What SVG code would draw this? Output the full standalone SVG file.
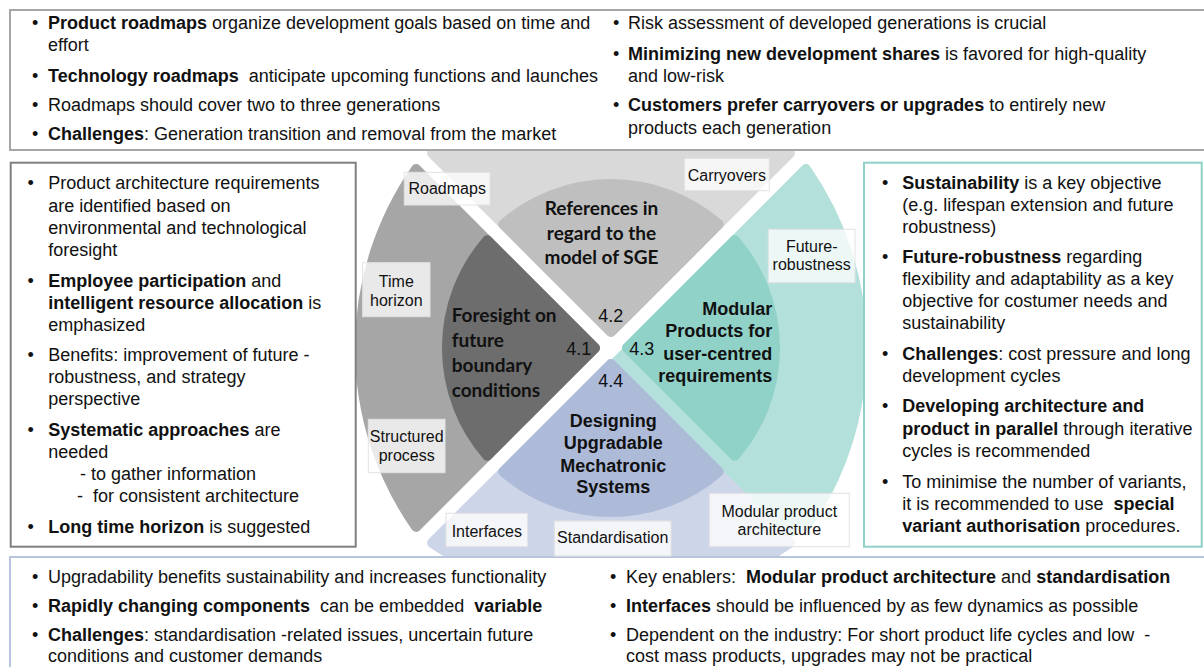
<svg xmlns="http://www.w3.org/2000/svg" width="1204" height="667" viewBox="0 0 1204 667">
<style>
  .shape { stroke-width: 10; stroke-linejoin: round; }
  .t { font-family: "Liberation Sans", Arial, sans-serif; font-size: 18px; fill: #111; }
  .b { font-weight: bold; }
  .lbl { font-family: "Liberation Sans", Arial, sans-serif; font-size: 16px; fill: #111; text-anchor: middle; }
  .lblbox { fill: #ffffff; fill-opacity: 0.75; stroke: #e2e2e2; stroke-width: 1; }
  .ttl { font-family: Lato, "Open Sans", sans-serif; font-weight: bold; font-size: 19px; fill: #111; }
  .ttl2 { font-family: "Liberation Sans", Arial, sans-serif; font-weight: bold; font-size: 18px; fill: #111; }
  .num { font-family: "Liberation Sans", Arial, sans-serif; font-size: 18px; fill: #111; text-anchor: middle; }
</style>

<g id="wheel">
  <g id="outer-left"><path class="shape" fill="#a6a6a6" stroke="#a6a6a6" d="M595,348 L416.1,169.1 A313,313 0 0 0 416.1,526.9 Z"/></g>
  <g id="outer-top"><path class="shape" fill="#d9d9d9" stroke="#d9d9d9" d="M611,332 L432.1,153.1 A313,313 0 0 1 789.9,153.1 Z"/></g>
  <g id="outer-bottom"><path class="shape" fill="#cdd5e8" stroke="#cdd5e8" d="M611,364 L432.1,542.9 A313,313 0 0 0 789.9,542.9 Z"/></g>
  <g id="outer-right"><path class="shape" fill="#b3e0db" stroke="#b3e0db" d="M627,348 L805.9,169.1 A313,313 0 0 1 805.9,526.9 Z"/></g>
  <line x1="617" y1="354" x2="796" y2="533" stroke="#b3e0db" stroke-width="15"/>
  <g id="inner-left"><path class="shape" fill="#6d6d6d" stroke="#6d6d6d" d="M595,348 L487.3,240.3 A164,164 0 0 0 487.3,455.7 Z"/></g>
  <g id="inner-top"><path class="shape" fill="#bfbfbf" stroke="#bfbfbf" d="M611,332 L503.3,224.3 A164,164 0 0 1 718.7,224.3 Z"/></g>
  <g id="inner-right"><path class="shape" fill="#90d1c8" stroke="#90d1c8" d="M627,348 L734.7,240.3 A164,164 0 0 1 734.7,455.7 Z"/></g>
  <g id="inner-bottom"><path class="shape" fill="#adbbd9" stroke="#adbbd9" d="M611,364 L503.3,471.7 A164,164 0 0 0 718.7,471.7 Z"/></g>
</g>

<g id="connectors"></g>

<g id="titles">
  <g id="title-41">
    <text class="ttl" x="451.7" y="321.7">Foresight on</text>
    <text class="ttl" x="451.7" y="346.7">future</text>
    <text class="ttl" x="451.7" y="372.3">boundary</text>
    <text class="ttl" x="451.7" y="397.3">conditions</text>
  </g>
  <g id="title-42">
    <text class="ttl" x="601.5" y="215" text-anchor="middle">References in</text>
    <text class="ttl" x="601.5" y="240" text-anchor="middle">regard to the</text>
    <text class="ttl" x="601.5" y="264" text-anchor="middle">model of SGE</text>
  </g>
  <g id="title-43">
    <text class="ttl2" x="772.3" y="315" text-anchor="end">Modular</text>
    <text class="ttl2" x="772.3" y="337.3" text-anchor="end">Products for</text>
    <text class="ttl2" x="772.3" y="360" text-anchor="end">user-centred</text>
    <text class="ttl2" x="772.3" y="382.3" text-anchor="end">requirements</text>
  </g>
  <g id="title-44">
    <text class="ttl2" x="613.3" y="426.7" text-anchor="middle">Designing</text>
    <text class="ttl2" x="613.3" y="449.3" text-anchor="middle">Upgradable</text>
    <text class="ttl2" x="613.3" y="471.7" text-anchor="middle">Mechatronic</text>
    <text class="ttl2" x="613.3" y="493.3" text-anchor="middle">Systems</text>
  </g>
  <text class="num" x="578.7" y="355">4.1</text>
  <text class="num" x="610.8" y="321.7">4.2</text>
  <text class="num" x="641.7" y="355">4.3</text>
  <text class="num" x="610.8" y="386.7">4.4</text>
</g>

<g id="top-box">
  <rect x="10" y="10" width="1200" height="140" fill="#ffffff" stroke="#a6a6a6" stroke-width="2"/>
  <text class="t" x="32" y="28.5">•</text>
  <text class="t" x="48" y="28.5"><tspan class="b">Product roadmaps</tspan> organize development goals based on time and</text>
  <text class="t" x="48" y="51">effort</text>
  <text class="t" x="32" y="82">•</text>
  <text class="t" x="48" y="82" xml:space="preserve"><tspan class="b">Technology roadmaps</tspan>  anticipate upcoming functions and launches</text>
  <text class="t" x="32" y="111">•</text>
  <text class="t" x="48" y="111">Roadmaps should cover two to three generations</text>
  <text class="t" x="32" y="140">•</text>
  <text class="t" x="48" y="140"><tspan class="b">Challenges</tspan>: Generation transition and removal from the market</text>
  <text class="t" x="613" y="28.5">•</text>
  <text class="t" x="628" y="28.5">Risk assessment of developed generations is crucial</text>
  <text class="t" x="613" y="59.5">•</text>
  <text class="t" x="628" y="59.5"><tspan class="b">Minimizing new development shares</tspan> is favored for high-quality</text>
  <text class="t" x="628" y="81.5">and low-risk</text>
  <text class="t" x="613" y="111">•</text>
  <text class="t" x="628" y="111"><tspan class="b">Customers prefer carryovers or upgrades</tspan> to entirely new</text>
  <text class="t" x="628" y="133.5">products each generation</text>
</g>

<g id="left-box">
  <rect x="10.7" y="162.7" width="345" height="384" fill="#ffffff" stroke="#7f7f7f" stroke-width="2"/>
  <text class="t" x="27.5" y="189.3">•</text>
  <text class="t" x="48.3" y="189.3">Product architecture requirements</text>
  <text class="t" x="48.3" y="211.7">are identified based on</text>
  <text class="t" x="48.3" y="234">environmental and technological</text>
  <text class="t" x="48.3" y="256.3">foresight</text>
  <text class="t" x="27.5" y="286.7">•</text>
  <text class="t" x="48.3" y="286.7"><tspan class="b">Employee participation</tspan> and</text>
  <text class="t" x="48.3" y="308.7"><tspan class="b">intelligent resource allocation</tspan> is</text>
  <text class="t" x="48.3" y="330.7">emphasized</text>
  <text class="t" x="27.5" y="361">•</text>
  <text class="t" x="48.3" y="361">Benefits: improvement of future -</text>
  <text class="t" x="48.3" y="383.3">robustness, and strategy</text>
  <text class="t" x="48.3" y="405.3">perspective</text>
  <text class="t" x="27.5" y="436">•</text>
  <text class="t" x="48.3" y="436"><tspan class="b">Systematic approaches</tspan> are</text>
  <text class="t" x="48.3" y="458">needed</text>
  <text class="t" x="80" y="480">- to gather information</text>
  <text class="t" x="77" y="502" xml:space="preserve">-  for consistent architecture</text>
  <text class="t" x="27.5" y="532.7">•</text>
  <text class="t" x="48.3" y="532.7"><tspan class="b">Long time horizon</tspan> is suggested</text>
</g>

<g id="right-box">
  <rect x="864" y="162.7" width="337.7" height="384" fill="#ffffff" stroke="#8fd0c8" stroke-width="2"/>
  <text class="t" x="882" y="189.3">•</text>
  <text class="t" x="902.3" y="189.3"><tspan class="b">Sustainability</tspan> is a key objective</text>
  <text class="t" x="902.3" y="211.3">(e.g. lifespan extension and future</text>
  <text class="t" x="902.3" y="233.3">robustness)</text>
  <text class="t" x="882" y="263.3">•</text>
  <text class="t" x="902.3" y="263.3"><tspan class="b">Future-robustness</tspan> regarding</text>
  <text class="t" x="902.3" y="285.3">flexibility and adaptability as a key</text>
  <text class="t" x="902.3" y="307">objective for costumer needs and</text>
  <text class="t" x="902.3" y="328.7">sustainability</text>
  <text class="t" x="882" y="360">•</text>
  <text class="t" x="902.3" y="360"><tspan class="b">Challenges</tspan>: cost pressure and long</text>
  <text class="t" x="902.3" y="381.7">development cycles</text>
  <text class="t" x="882" y="412.3">•</text>
  <text class="t" x="902.3" y="412.3"><tspan class="b">Developing architecture and</tspan></text>
  <text class="t" x="902.3" y="434.7"><tspan class="b">product in parallel</tspan> through iterative</text>
  <text class="t" x="902.3" y="456.7">cycles is recommended</text>
  <text class="t" x="882" y="487.7">•</text>
  <text class="t" x="902.3" y="487.7">To minimise the number of variants,</text>
  <text class="t" x="902.3" y="510" xml:space="preserve">it is recommended to use  <tspan class="b">special</tspan></text>
  <text class="t" x="902.3" y="531.7"><tspan class="b">variant authorisation</tspan> procedures.</text>
</g>

<g id="bottom-box">
  <rect x="10" y="557" width="1200" height="120" fill="#ffffff" stroke="#b9c4de" stroke-width="2"/>
  <text class="t" x="32" y="582.5">•</text>
  <text class="t" x="48" y="582.5">Upgradability benefits sustainability and increases functionality</text>
  <text class="t" x="32" y="611.5">•</text>
  <text class="t" x="48" y="611.5" xml:space="preserve"><tspan class="b">Rapidly changing components</tspan>  can be embedded  <tspan class="b">variable</tspan></text>
  <text class="t" x="32" y="640.5">•</text>
  <text class="t" x="48" y="640.5"><tspan class="b">Challenges</tspan>: standardisation -related issues, uncertain future</text>
  <text class="t" x="48" y="662">conditions and customer demands</text>
  <text class="t" x="610" y="582.5">•</text>
  <text class="t" x="626" y="582.5" xml:space="preserve">Key enablers:  <tspan class="b">Modular product architecture</tspan> and <tspan class="b">standardisation</tspan></text>
  <text class="t" x="610" y="611.5">•</text>
  <text class="t" x="626" y="611.5"><tspan class="b">Interfaces</tspan> should be influenced by as few dynamics as possible</text>
  <text class="t" x="610" y="640.5">•</text>
  <text class="t" x="626" y="640.5" xml:space="preserve">Dependent on the industry: For short product life cycles and low  -</text>
  <text class="t" x="626" y="662">cost mass products, upgrades may not be practical</text>
</g>

<g id="labels">
  <g id="lbl-roadmaps"><rect class="lblbox" x="404.3" y="172.3" width="85.7" height="32.7"/><text class="lbl" x="447.2" y="194.3">Roadmaps</text></g>
  <g id="lbl-carryovers"><rect class="lblbox" x="684.3" y="158.3" width="85" height="32.4"/><text class="lbl" x="726.8" y="180.7">Carryovers</text></g>
  <g id="lbl-time"><rect class="lblbox" x="362.7" y="262.7" width="67.3" height="54"/><text class="lbl" x="396.3" y="286.7">Time</text><text class="lbl" x="396.3" y="305.7">horizon</text></g>
  <g id="lbl-future"><rect class="lblbox" x="768.3" y="229.3" width="86.7" height="53.4"/><text class="lbl" x="811.7" y="251.7">Future-</text><text class="lbl" x="811.7" y="270">robustness</text></g>
  <g id="lbl-structured"><rect class="lblbox" x="368.3" y="419.3" width="76.7" height="53.4"/><text class="lbl" x="406.7" y="441.7">Structured</text><text class="lbl" x="406.7" y="460.7">process</text></g>
  <g id="lbl-interfaces"><rect class="lblbox" x="446" y="513.3" width="81.7" height="33.4"/><text class="lbl" x="486.8" y="536.7">Interfaces</text></g>
  <g id="lbl-standard"><rect class="lblbox" x="554.3" y="521" width="116.7" height="35"/><text class="lbl" x="612.7" y="543.3">Standardisation</text></g>
  <g id="lbl-modular"><rect class="lblbox" x="709.3" y="493.3" width="140" height="53.4"/><text class="lbl" x="779.3" y="516.7">Modular product</text><text class="lbl" x="779.3" y="535">architecture</text></g>
</g>
</svg>
